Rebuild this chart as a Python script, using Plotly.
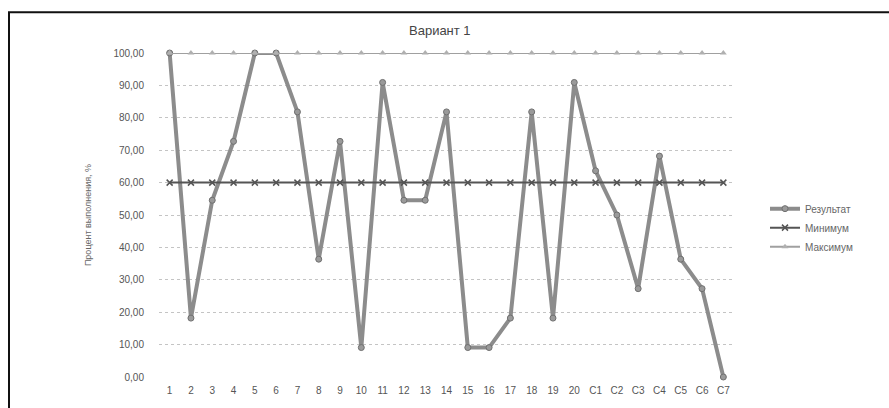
import plotly.graph_objects as go

categories = [str(i) for i in range(1, 21)] + ["C1", "C2", "C3", "C4", "C5", "C6", "C7"]
result = [100, 18.18, 54.55, 72.73, 100, 100, 81.82, 36.36, 72.73, 9.09,
          90.91, 54.55, 54.55, 81.82, 9.09, 9.09, 18.18, 81.82, 18.18, 90.91,
          63.64, 50.0, 27.27, 68.18, 36.36, 27.27, 0.0]
minimum = [60.0] * len(categories)
maximum = [100.0] * len(categories)
y_ticks = [0, 10, 20, 30, 40, 50, 60, 70, 80, 90, 100]

W, H = 889, 408
L, R, T, B = 159, 155, 53, 29
pw, ph = W - L - R, H - T - B

def px(x):
    return (x - L) / pw

def py(y):
    return (H - B - y) / ph

font = "Liberation Sans, Arial, sans-serif"

fig = go.Figure()
fig.add_trace(go.Scatter(
    x=categories, y=result, name="Результат", mode="lines+markers",
    line=dict(color="#8c8c8c", width=4),
    marker=dict(symbol="circle", size=6, color="#9a9a9a", line=dict(color="#707070", width=1)),
    cliponaxis=False,
))
fig.add_trace(go.Scatter(
    x=categories, y=minimum, name="Минимум", mode="lines+markers",
    line=dict(color="#555555", width=2),
    marker=dict(symbol="x-thin", size=6, line=dict(color="#555555", width=1.5)),
    cliponaxis=False,
))
fig.add_trace(go.Scatter(
    x=categories, y=maximum, name="Максимум", mode="lines+markers",
    line=dict(color="#a0a0a0", width=2),
    marker=dict(symbol="triangle-up", size=6, color="#b0b0b0"),
    cliponaxis=False,
))

fig.update_layout(
    width=W, height=H,
    margin=dict(l=L, r=R, t=T, b=B),
    paper_bgcolor="white", plot_bgcolor="white",
    separators=", ",
    font=dict(family=font, size=10, color="#555555"),
    showlegend=True,
    legend=dict(x=px(765), y=py(195), xanchor="left", yanchor="top",
                bgcolor="rgba(0,0,0,0)", font=dict(size=10, color="#666666"),
                itemwidth=30, tracegroupgap=4),
    xaxis=dict(type="category", range=[-0.5, 26.5], showgrid=False, zeroline=False,
               showline=False, ticks="", tickfont=dict(size=10, color="#555555"),
               ticklabelstandoff=6),
    yaxis=dict(range=[0, 100], tickvals=y_ticks, tickformat=".2f",
               showgrid=True, gridcolor="#c4c4c4", griddash="dot", gridwidth=1,
               zeroline=False, showline=False, ticks="",
               tickfont=dict(size=10, color="#555555"), ticklabelstandoff=14,
               title=dict(text="Процент выполнения, %", font=dict(size=9, color="#666666"),
                          standoff=20)),
    annotations=[dict(text="Вариант 1", x=px(440), y=py(30), xref="paper", yref="paper",
                      showarrow=False, font=dict(size=13, color="#444444"),
                      xanchor="center", yanchor="middle")],
    shapes=[dict(type="path", xref="paper", yref="paper",
                 path=f"M {px(9)} {py(420)} L {px(9)} {py(12)} L {px(900)} {py(12)}",
                 line=dict(color="#111111", width=2))],
)

fig.write_html("out.html", config={"displayModeBar": False},
               post_script="document.body.style.margin='0';document.body.style.overflow='hidden';")
